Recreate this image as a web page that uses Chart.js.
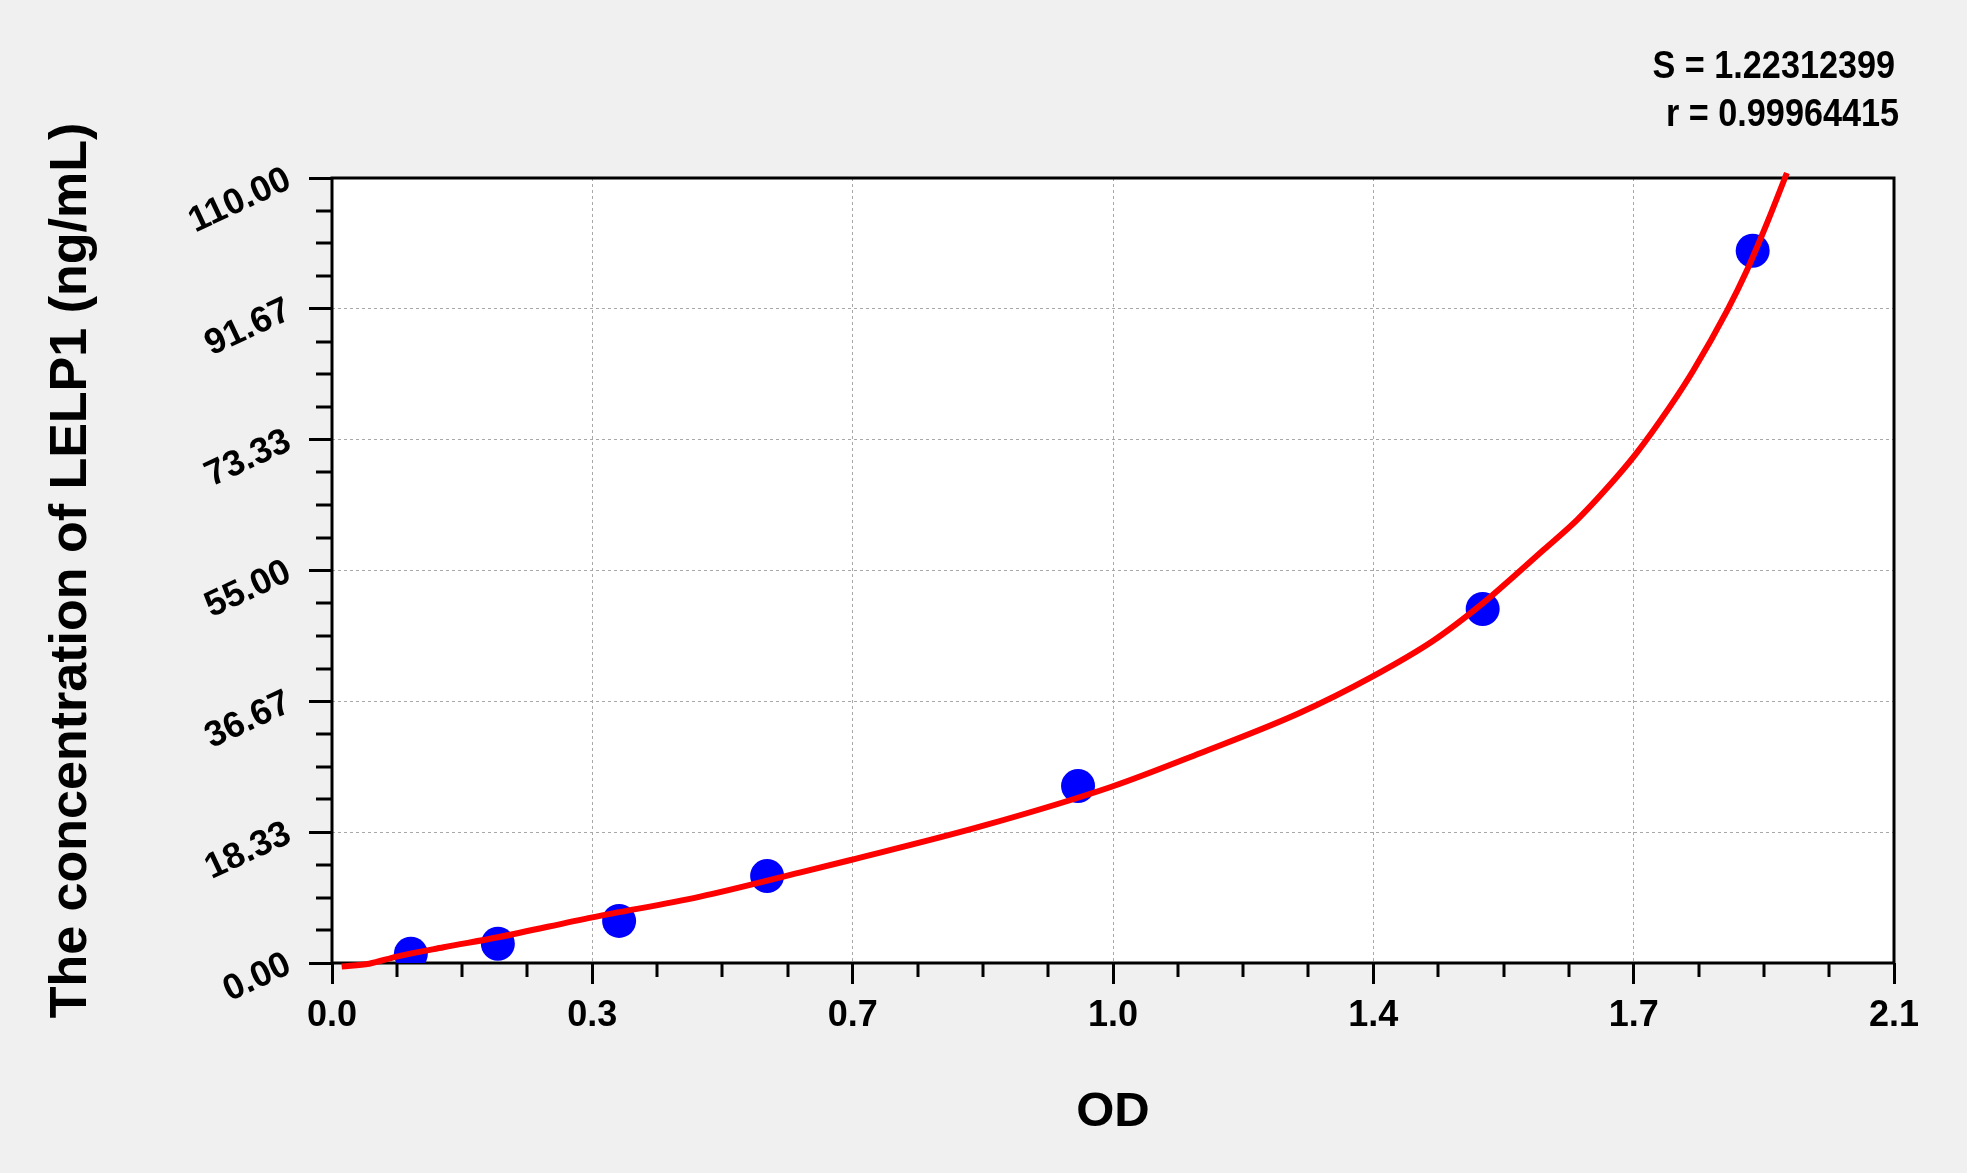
<!DOCTYPE html>
<html>
<head>
<meta charset="utf-8">
<script src="https://cdn.jsdelivr.net/npm/chart.js@4.4.1/dist/chart.umd.min.js"></script>
<style>
  html, body { margin: 0; padding: 0; background: #f0f0f0; }
  #wrap { width: 1967px; height: 1173px; }
</style>
</head>
<body>
<div id="wrap"><canvas id="curve" width="1967" height="1173"></canvas></div>
<script>
// standard points
const odPoints   = [0.106, 0.223, 0.386, 0.585, 1.003, 1.547, 1.910];
const concPoints = [1.3, 2.7, 5.9, 12.2, 24.8, 49.6, 99.8];

// fitted curve
const curveOD   = [0.013, 0.050, 0.087, 0.150, 0.223, 0.350, 0.495, 0.630, 0.696, 0.871,
                   1.048, 1.167, 1.300, 1.398, 1.481, 1.547, 1.588, 1.629, 1.674, 1.712,
                   1.752, 1.799, 1.830, 1.876, 1.902, 1.929, 1.956];
const curveConc = [-0.5, -0.1, 0.9, 2.2, 3.6, 6.4, 9.3, 12.7, 14.4, 19.1,
                   24.7, 29.4, 35.0, 40.1, 45.2, 50.4, 54.1, 57.9, 62.1, 66.3,
                   71.2, 78.0, 83.0, 91.5, 97.0, 103.6, 110.7];

const xTicks      = [0, 0.35, 0.7, 1.05, 1.4, 1.75, 2.1];
const xTickLabels = ["0.0", "0.3", "0.7", "1.0", "1.4", "1.7", "2.1"];
const yTicks      = [0, 18.33, 36.67, 55, 73.33, 91.67, 110];
const yTickLabels = ["0.00", "18.33", "36.67", "55.00", "73.33", "91.67", "110.00"];
const statLines   = ["S = 1.22312399", "r = 0.99964415"];

const FONT = "'Liberation Sans', Arial, sans-serif";
const GRID = "#a8a8a8";

// fond gris + zone blanche
const backdrop = {
  id: "backdrop",
  beforeDraw(chart) {
    const { ctx, chartArea: a } = chart;
    ctx.save();
    ctx.fillStyle = "#f0f0f0";
    ctx.fillRect(0, 0, chart.width, chart.height);
    ctx.fillStyle = "#ffffff";
    ctx.fillRect(a.left, a.top, a.right - a.left, a.bottom - a.top);
    ctx.restore();
  },
};

// cadre noir + petites graduations
const frame = {
  id: "frame",
  beforeDatasetsDraw(chart) {
    const { ctx, chartArea: a, scales: { x, y } } = chart;
    ctx.save();
    ctx.strokeStyle = "#000";
    ctx.lineWidth = 3;
    ctx.strokeRect(a.left, a.top, a.right - a.left, a.bottom - a.top);

    ctx.beginPath();
    for (let i = 0; i < xTicks.length - 1; i++) {
      const step = (xTicks[i + 1] - xTicks[i]) / 4;
      for (let k = 1; k < 4; k++) {
        const px = Math.round(x.getPixelForValue(xTicks[i] + k * step));
        ctx.moveTo(px, a.bottom);
        ctx.lineTo(px, a.bottom + 14);
      }
    }
    for (let i = 0; i < yTicks.length - 1; i++) {
      const step = (yTicks[i + 1] - yTicks[i]) / 4;
      for (let k = 1; k < 4; k++) {
        const py = Math.round(y.getPixelForValue(yTicks[i] + k * step));
        ctx.moveTo(a.left, py);
        ctx.lineTo(a.left - 16, py);
      }
    }
    ctx.stroke();
    ctx.restore();
  },
};

// S / r en haut à droite (police un peu serrée)
const stats = {
  id: "stats",
  afterDraw(chart) {
    const { ctx } = chart;
    ctx.save();
    ctx.fillStyle = "#000";
    ctx.font = "bold 38px " + FONT;
    ctx.textAlign = "right";
    ctx.textBaseline = "alphabetic";
    ctx.scale(0.9, 1);
    ctx.fillText(statLines[0], 1895 / 0.9, 78);
    ctx.fillText(statLines[1], 1899 / 0.9, 126);
    ctx.restore();
  },
};

const hideEdges = (max) => (c) =>
  c.tick && (c.tick.value === 0 || c.tick.value === max) ? "transparent" : GRID;

new Chart(document.getElementById("curve"), {
  type: "scatter",
  data: {
    datasets: [
      {
        label: "fit",
        data: curveOD.map((v, i) => ({ x: v, y: curveConc[i] })),
        showLine: true,
        borderColor: "#ff0000",
        borderWidth: 6,
        pointRadius: 0,
        cubicInterpolationMode: "monotone",
        clip: false,
      },
      {
        label: "standards",
        data: odPoints.map((v, i) => ({ x: v, y: concPoints[i] })),
        backgroundColor: "#0000ff",
        borderWidth: 0,
        pointRadius: 17,
      },
    ],
  },
  options: {
    responsive: false,
    devicePixelRatio: 1,
    animation: false,
    layout: { padding: { top: 178, right: 73, left: 0, bottom: 0 } },
    plugins: { legend: { display: false }, tooltip: { enabled: false } },
    scales: {
      x: {
        type: "linear",
        min: 0,
        max: 2.1,
        afterBuildTicks: (s) => { s.ticks = xTicks.map((v) => ({ value: v })); },
        afterFit: (s) => { s.height = 210; },
        ticks: {
          callback: (v, i) => xTickLabels[i],
          color: "#000",
          padding: 10,
          maxRotation: 0,
          font: { family: FONT, size: 36, weight: "bold" },
        },
        grid: {
          color: hideEdges(2.1),
          lineWidth: 1,
          tickLength: 21,
          tickWidth: 3,
          tickColor: "#000",
          tickBorderDash: [],
        },
        border: { display: false, dash: [3, 3] },
        title: {
          display: true,
          text: "OD",
          color: "#000",
          font: { family: FONT, size: 49, weight: "bold", lineHeight: 1 },
          padding: { top: 0, bottom: 36 },
        },
      },
      y: {
        type: "linear",
        min: 0,
        max: 110,
        afterBuildTicks: (s) => { s.ticks = yTicks.map((v) => ({ value: v })); },
        afterFit: (s) => { s.width = 332; },
        ticks: {
          callback: (v, i) => yTickLabels[i],
          color: "#000",
          padding: 20,
          minRotation: 25,
          maxRotation: 25,
          font: { family: FONT, size: 36, weight: "bold" },
        },
        grid: {
          color: hideEdges(110),
          lineWidth: 1,
          tickLength: 23,
          tickWidth: 3,
          tickColor: "#000",
          tickBorderDash: [],
        },
        border: { display: false, dash: [3, 3] },
        title: {
          display: true,
          text: "The concentration of LELP1 (ng/mL)",
          color: "#000",
          font: { family: FONT, size: 52, weight: "bold", lineHeight: 1 },
          padding: { top: 46, bottom: 0 },
        },
      },
    },
  },
  plugins: [backdrop, frame, stats],
});
</script>
</body>
</html>
